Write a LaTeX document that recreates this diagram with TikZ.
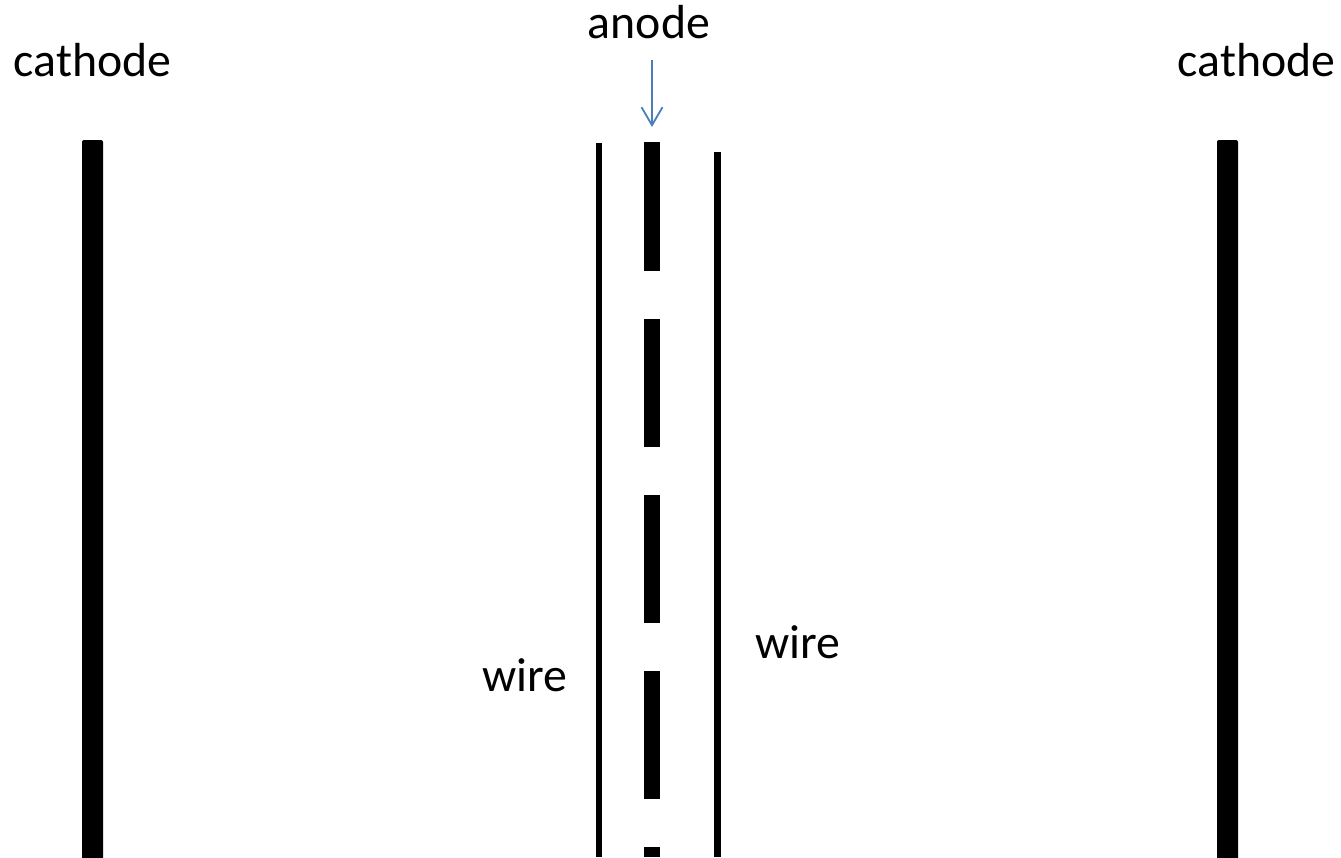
\documentclass[tikz,border=0pt]{standalone}
\usepackage{fontspec}
\setmainfont{Carlito}
\usetikzlibrary{arrows.meta}
\definecolor{arrowblue}{HTML}{4A7EBB}
\tikzset{
  lbl/.style={inner sep=0pt,anchor=base,font=\fontsize{47.8pt}{50pt}\selectfont,text=black},
  bar/.style={fill=black,draw=none},
  pointer/.style={draw=arrowblue,line width=1.8pt,-{Straight Barb[length=18pt,width=21pt,line width=1.8pt]}}
}
\begin{document}
\begin{tikzpicture}[x=1pt,y=-1pt]
\useasboundingbox (0,0) rectangle (1341,857);
% cathodes
\fill[bar,rounded corners=2pt] (82,140) rectangle (103,870);
\fill[bar,rounded corners=2pt] (1217,140) rectangle (1238,870);
% wires
\fill[bar] (596,143) rectangle (602,857);
\fill[bar] (714,152) rectangle (721,857);
% anode segments
\fill[bar] (644,142) rectangle (660,271);
\fill[bar] (644,319) rectangle (660,447);
\fill[bar] (644,495) rectangle (660,623);
\fill[bar] (644,671) rectangle (660,799);
\fill[bar] (644,847) rectangle (660,857);
% labels
\node[lbl] (cathodeL) at (92.5,76) {cathode};
\node[lbl] (cathodeR) at (1256.5,76) {cathode};
\node[lbl] (anode) at (649,38) {anode};
\node[lbl] (wireL) at (525,691) {wire};
\node[lbl] (wireR) at (798,658) {wire};
% arrow
\coordinate (arrowStart) at (652,60);
\coordinate (arrowEnd) at (652,127);
\draw[pointer] (arrowStart) -- (arrowEnd);
\end{tikzpicture}
\end{document}
